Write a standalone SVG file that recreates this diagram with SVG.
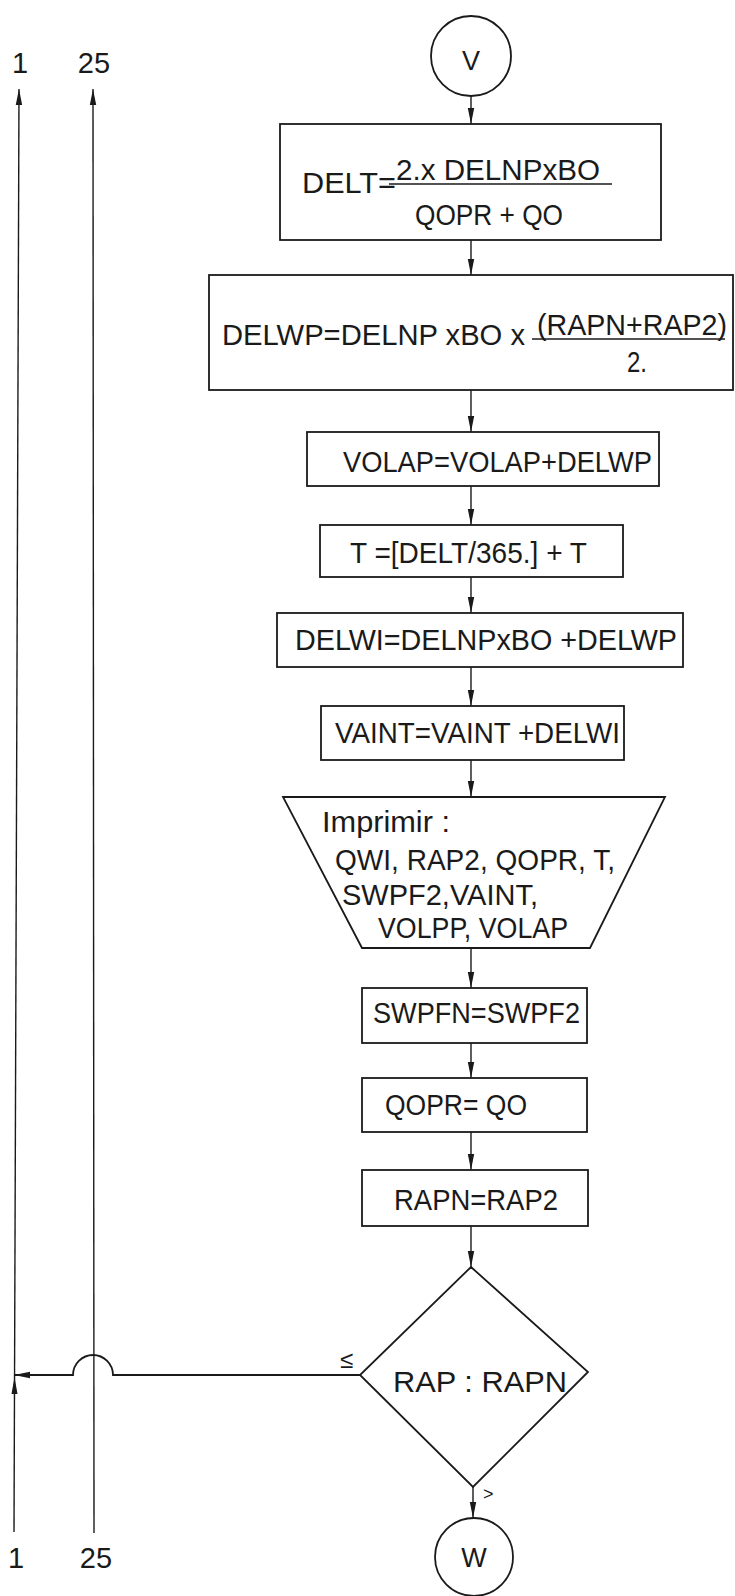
<svg xmlns="http://www.w3.org/2000/svg" width="735" height="1596" viewBox="0 0 735 1596">
<defs>
<marker id="ah" markerUnits="userSpaceOnUse" markerWidth="16" markerHeight="8" refX="16" refY="4" orient="auto">
<path d="M0,0.8 L16,4 L0,7.2 z" fill="#1a1a1a"/>
</marker>
</defs>
<style>
.s{fill:none;stroke:#1a1a1a;stroke-width:1.8}
.c{fill:none;stroke:#1a1a1a;stroke-width:1.4}
.t{font-family:"Liberation Sans",Arial,sans-serif;font-size:30px;fill:#1a1a1a}
.m{text-anchor:middle}
</style>
<rect width="735" height="1596" fill="#ffffff"/>

<g id="connectors">
<line class="c" x1="471" y1="96" x2="471" y2="124" marker-end="url(#ah)"/>
<line class="c" x1="471" y1="240" x2="471" y2="275" marker-end="url(#ah)"/>
<line class="c" x1="471" y1="390" x2="471" y2="432" marker-end="url(#ah)"/>
<line class="c" x1="471" y1="486" x2="471" y2="525" marker-end="url(#ah)"/>
<line class="c" x1="471" y1="577" x2="471" y2="613" marker-end="url(#ah)"/>
<line class="c" x1="471" y1="667" x2="471" y2="706" marker-end="url(#ah)"/>
<line class="c" x1="471" y1="760" x2="471" y2="797" marker-end="url(#ah)"/>
<line class="c" x1="471" y1="948" x2="471" y2="988" marker-end="url(#ah)"/>
<line class="c" x1="471" y1="1043" x2="471" y2="1078" marker-end="url(#ah)"/>
<line class="c" x1="471" y1="1132" x2="471" y2="1170" marker-end="url(#ah)"/>
<line class="c" x1="471" y1="1226" x2="471" y2="1267" marker-end="url(#ah)"/>
<line class="c" x1="473" y1="1487" x2="473" y2="1518" marker-end="url(#ah)"/>
<path class="s" d="M360,1375 L113,1375 A20,20 0 0 0 73,1375 L14,1375" marker-end="url(#ah)"/>
<line class="c" x1="14" y1="1532" x2="19" y2="89" marker-end="url(#ah)"/>
<line class="c" x1="94" y1="1533" x2="93" y2="89" marker-end="url(#ah)"/>
<path d="M14.5,1377 L11.5,1394 L17.5,1394 z" fill="#1a1a1a"/>
<text class="t m" x="20" y="73" style="font-size:29px">1</text>
<text class="t m" x="94" y="73" style="font-size:29px">25</text>
<text class="t m" x="16" y="1568" style="font-size:29px">1</text>
<text class="t m" x="96" y="1568" style="font-size:29px">25</text>
<text class="t" x="340" y="1368" style="font-size:24px">≤</text>
<text class="t" x="483" y="1500" style="font-size:18px">&gt;</text>
</g>

<g id="start-v">
<circle class="s" cx="471" cy="56" r="40"/>
<text class="t m" x="471" y="70" style="font-size:27px">V</text>
</g>

<g id="delt">
<rect class="s" x="280" y="124" width="381" height="116"/>
<text class="t" x="302" y="193" textLength="94" lengthAdjust="spacingAndGlyphs">DELT=</text>
<text class="t" x="396" y="180" textLength="204" lengthAdjust="spacingAndGlyphs">2.x DELNPxBO</text>
<line class="c" x1="389" y1="184" x2="612" y2="184"/>
<text class="t" x="415" y="225" textLength="148" lengthAdjust="spacingAndGlyphs">QOPR + QO</text>
</g>

<g id="delwp">
<rect class="s" x="209" y="275" width="524" height="115"/>
<text class="t" x="222" y="345" textLength="303" lengthAdjust="spacingAndGlyphs">DELWP=DELNP xBO x</text>
<text class="t" x="537" y="335" textLength="190" lengthAdjust="spacingAndGlyphs">(RAPN+RAP2)</text>
<line class="c" x1="532" y1="339" x2="725" y2="339"/>
<text class="t" x="627" y="372" textLength="20" lengthAdjust="spacingAndGlyphs">2.</text>
</g>

<g id="volap">
<rect class="s" x="307" y="432" width="352" height="54"/>
<text class="t" x="343" y="472" textLength="309" lengthAdjust="spacingAndGlyphs">VOLAP=VOLAP+DELWP</text>
</g>

<g id="t">
<rect class="s" x="320" y="525" width="303" height="52"/>
<text class="t" x="350" y="563" textLength="237" lengthAdjust="spacingAndGlyphs">T =[DELT/365.] + T</text>
</g>

<g id="delwi">
<rect class="s" x="277" y="613" width="406" height="54"/>
<text class="t" x="295" y="650" textLength="382" lengthAdjust="spacingAndGlyphs">DELWI=DELNPxBO +DELWP</text>
</g>

<g id="vaint">
<rect class="s" x="321" y="706" width="303" height="54"/>
<text class="t" x="335" y="743" textLength="285" lengthAdjust="spacingAndGlyphs">VAINT=VAINT +DELWI</text>
</g>

<g id="imprimir">
<polygon class="s" points="283,797 665,797 590,948 362,948"/>
<text class="t" x="322" y="832" textLength="128" lengthAdjust="spacingAndGlyphs">Imprimir :</text>
<text class="t" x="335" y="870" textLength="280" lengthAdjust="spacingAndGlyphs">QWI, RAP2, QOPR, T,</text>
<text class="t" x="342" y="905" textLength="196" lengthAdjust="spacingAndGlyphs">SWPF2,VAINT,</text>
<text class="t" x="378" y="938" textLength="190" lengthAdjust="spacingAndGlyphs">VOLPP, VOLAP</text>
</g>

<g id="swpfn">
<rect class="s" x="362" y="988" width="225" height="55"/>
<text class="t" x="373" y="1023" textLength="207" lengthAdjust="spacingAndGlyphs">SWPFN=SWPF2</text>
</g>

<g id="qopr">
<rect class="s" x="362" y="1078" width="225" height="54"/>
<text class="t" x="385" y="1115" textLength="142" lengthAdjust="spacingAndGlyphs">QOPR= QO</text>
</g>

<g id="rapn">
<rect class="s" x="362" y="1170" width="226" height="56"/>
<text class="t" x="394" y="1210" textLength="164" lengthAdjust="spacingAndGlyphs">RAPN=RAP2</text>
</g>

<g id="decision">
<polygon class="s" points="471,1267 588,1372 473,1487 360,1375"/>
<text class="t" x="393" y="1392" textLength="174" lengthAdjust="spacingAndGlyphs">RAP : RAPN</text>
</g>

<g id="end-w">
<circle class="s" cx="474" cy="1557" r="39"/>
<text class="t m" x="474" y="1567" style="font-size:27px">W</text>
</g>
</svg>
